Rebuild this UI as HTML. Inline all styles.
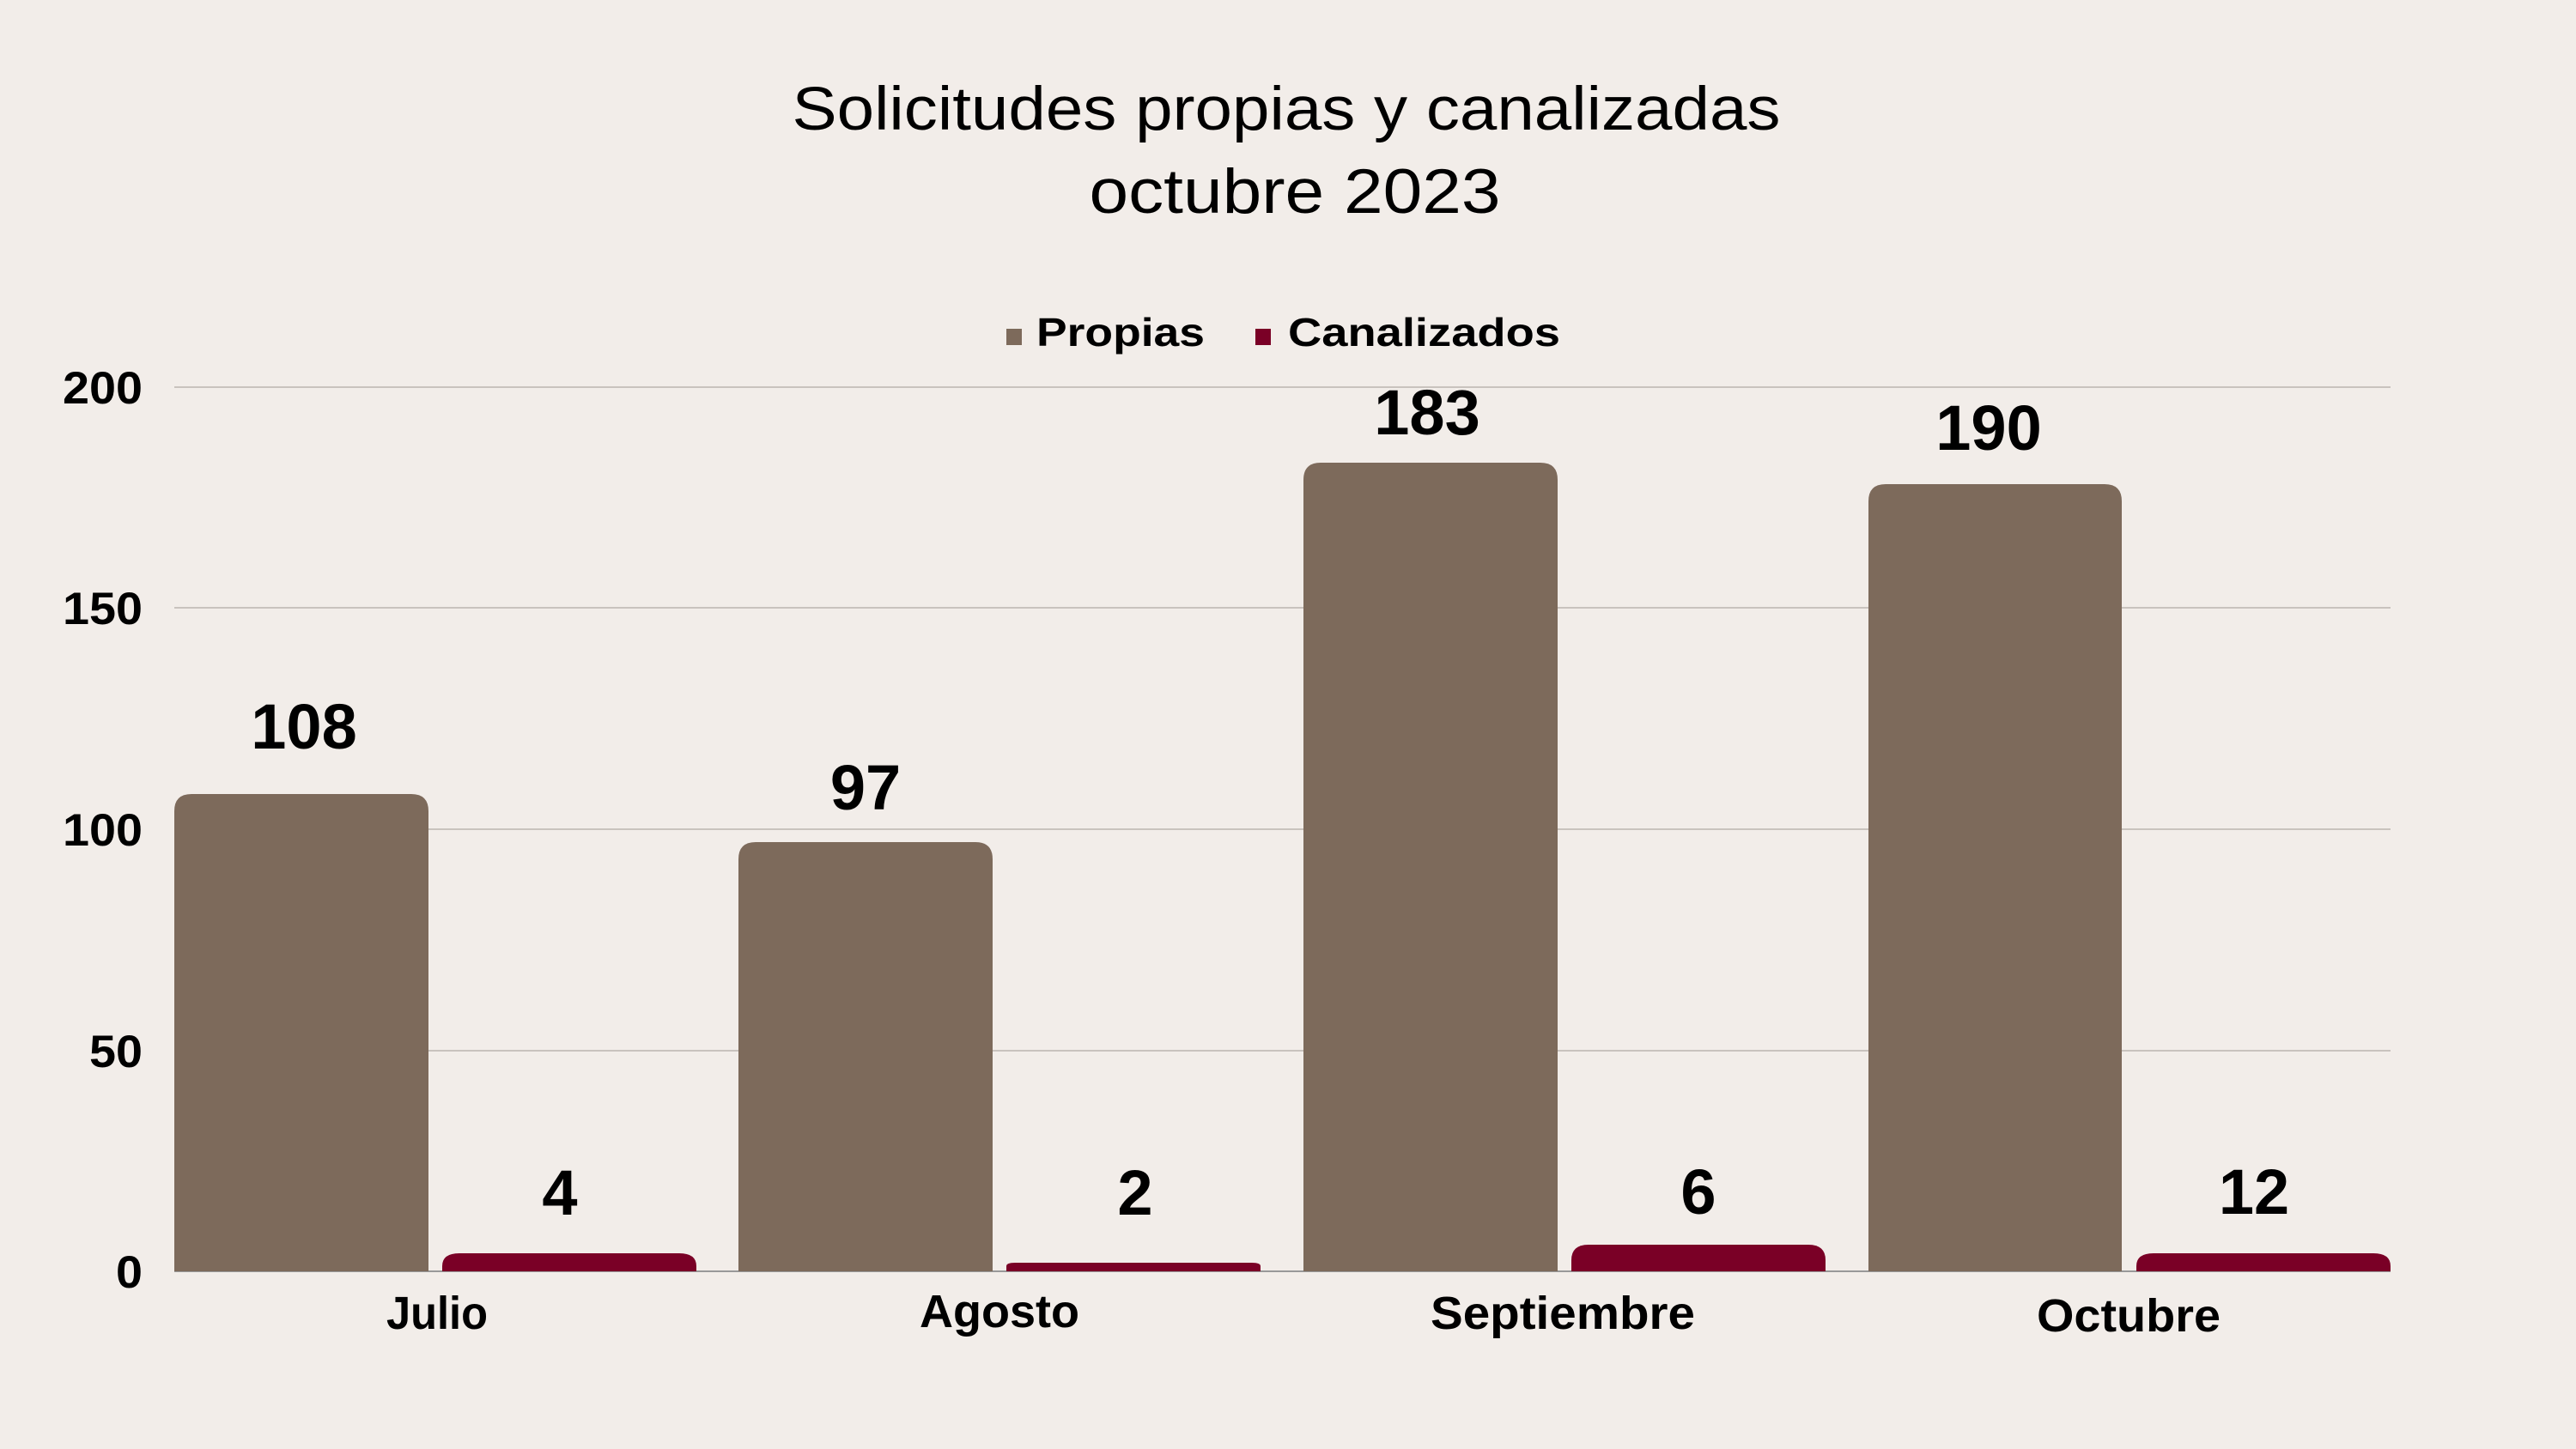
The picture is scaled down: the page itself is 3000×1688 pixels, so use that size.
<!DOCTYPE html>
<html><head><meta charset="utf-8"><style>
html,body{margin:0;padding:0;background:#f2ede9;}
svg{display:block;}
text{font-family:"Liberation Sans",sans-serif;fill:#000;}
.b{font-weight:bold;}
</style></head><body>
<svg width="3000" height="1688" viewBox="0 0 3000 1688" xmlns="http://www.w3.org/2000/svg">
<rect width="3000" height="1688" fill="#f2ede9"/>
<text x="1498" y="151" font-size="71" text-anchor="middle" textLength="1151" lengthAdjust="spacingAndGlyphs">Solicitudes propias y canalizadas</text>
<text x="1508" y="248" font-size="73" text-anchor="middle" textLength="479" lengthAdjust="spacingAndGlyphs">octubre 2023</text>
<rect x="1172" y="383" width="18" height="19" fill="#7d6a5b"/>
<text class="b" x="1207" y="403" font-size="46" textLength="196" lengthAdjust="spacingAndGlyphs">Propias</text>
<rect x="1462" y="383" width="18" height="19" fill="#7a0026"/>
<text class="b" x="1500" y="403" font-size="46" textLength="317" lengthAdjust="spacingAndGlyphs">Canalizados</text>
<g stroke="#c9c3be" stroke-width="2">
<line x1="203" y1="451" x2="2784" y2="451"/>
<line x1="203" y1="708" x2="2784" y2="708"/>
<line x1="203" y1="966" x2="2784" y2="966"/>
<line x1="203" y1="1224" x2="2784" y2="1224"/>
<line x1="203" y1="1481" x2="2784" y2="1481" stroke="#999"/>
</g>
<text class="b" x="73" y="470" font-size="53" textLength="93" lengthAdjust="spacingAndGlyphs">200</text>
<text class="b" x="73" y="727" font-size="53" textLength="93" lengthAdjust="spacingAndGlyphs">150</text>
<text class="b" x="73" y="985" font-size="53" textLength="93" lengthAdjust="spacingAndGlyphs">100</text>
<text class="b" x="104" y="1243" font-size="53" textLength="62" lengthAdjust="spacingAndGlyphs">50</text>
<text class="b" x="135" y="1500" font-size="53" textLength="31" lengthAdjust="spacingAndGlyphs">0</text>
<g fill="#7d6a5b">
<path d="M203,1481 V945 Q203,925 223,925 H479 Q499,925 499,945 V1481 Z"/>
<path d="M860,1481 V1001 Q860,981 880,981 H1136 Q1156,981 1156,1001 V1481 Z"/>
<path d="M1518,1481 V559 Q1518,539 1538,539 H1794 Q1814,539 1814,559 V1481 Z"/>
<path d="M2176,1481 V584 Q2176,564 2196,564 H2451 Q2471,564 2471,584 V1481 Z"/>
</g>
<g fill="#7a0026">
<path d="M515,1481 V1475 Q515,1460 535,1460 H791 Q811,1460 811,1475 V1481 Z"/>
<path d="M1172,1481 V1475 Q1172,1471 1182,1471 H1458 Q1468,1471 1468,1475 V1481 Z"/>
<path d="M1830,1481 V1468 Q1830,1450 1850,1450 H2106 Q2126,1450 2126,1468 V1481 Z"/>
<path d="M2488,1481 V1475 Q2488,1460 2508,1460 H2764 Q2784,1460 2784,1475 V1481 Z"/>
</g>
<g font-size="74">
<text class="b" x="354" y="872" text-anchor="middle">108</text>
<text class="b" x="1008" y="943" text-anchor="middle">97</text>
<text class="b" x="1662" y="506" text-anchor="middle">183</text>
<text class="b" x="2316" y="524" text-anchor="middle">190</text>
<text class="b" x="652" y="1415" text-anchor="middle">4</text>
<text class="b" x="1322" y="1415" text-anchor="middle">2</text>
<text class="b" x="1978" y="1414" text-anchor="middle">6</text>
<text class="b" x="2625" y="1414" text-anchor="middle">12</text>
</g>
<g font-size="54">
<text class="b" x="450" y="1548" textLength="118" lengthAdjust="spacingAndGlyphs">Julio</text>
<text class="b" x="1071" y="1546" textLength="186" lengthAdjust="spacingAndGlyphs">Agosto</text>
<text class="b" x="1666" y="1548" textLength="308" lengthAdjust="spacingAndGlyphs">Septiembre</text>
<text class="b" x="2372" y="1551" textLength="214" lengthAdjust="spacingAndGlyphs">Octubre</text>
</g>
</svg>
</body></html>
